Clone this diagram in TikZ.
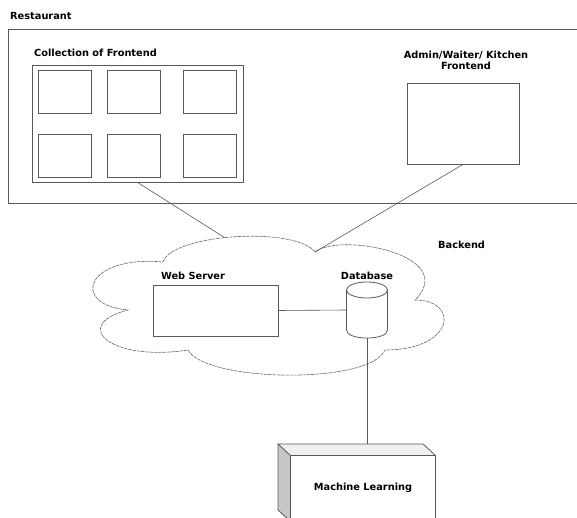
\documentclass[tikz,border=0pt]{standalone}
\usepackage{fontspec}
\setmainfont{DejaVu Sans}

\tikzset{
	lbl/.style={font=\bfseries\fontsize{9.8}{11}\selectfont, inner sep=0pt},
	box/.style={draw=black!65, line width=0.8pt, inner sep=0pt},
	wire/.style={draw=black!65, line width=0.6pt},
	cloudline/.style={draw=black!60, line width=0.6pt, dash pattern=on 3.5pt off 0.8pt},
}

\begin{document}
\begin{tikzpicture}[x=1pt,y=-1pt]
	\useasboundingbox (0,0) rectangle (577,518);
	\clip (0,0) rectangle (577,518);
	% restaurant frame
	\node[lbl,anchor=west] (rest) at (10,16) {Restaurant};
	\draw[box] (578,29) -| (8,203) -- (578,203);
	% guest frontends
	\node[lbl,anchor=west] (collt) at (34,53) {Collection of Frontend};
	\node[box,minimum width=211,minimum height=117] (front) at (137.5,123.5) {};
	\foreach \c/\x in {1/64.5,2/134,3/209.5}
		\foreach \r/\y in {1/91.5,2/155.5}
			\node[box,minimum width=53,minimum height=43] (fe\r\c) at (\x,\y) {};
	% staff frontend
	\node[lbl,align=center] (admint) at (466,60) {Admin/Waiter/ Kitchen\\Frontend};
	\node[box,minimum width=112,minimum height=81] (admin) at (463,123.5) {};
	% backend cloud
	\draw[cloudline] (163,262)
		.. controls (172,234) and (295,226) .. coordinate[pos=0.45] (cltop) (315,252) coordinate (clnotch)
		.. controls (340,232) and (460,255) .. (415,300)
		.. controls (460,300) and (455,350) .. (385,350)
		.. controls (370,385) and (205,382) .. (188,350)
		.. controls (110,362) and (70,325) .. (128,310)
		.. controls (70,305) and (85,255) .. cycle;
	\node[lbl,anchor=west] (backt) at (438,245) {Backend};
	\node[lbl] (webt) at (193,276) {Web Server};
	\node[box,minimum width=125,minimum height=51] (web) at (215.5,310.5) {};
	\node[lbl] (dbt) at (367,276) {Database};
	\node[minimum width=41,minimum height=56,inner sep=0pt] (db) at (367,310) {};
	\draw[box] (367,290) ellipse [x radius=20.5pt, y radius=8pt];
	\draw[box] (346.5,290) -- (346.5,330) .. controls (346.5,340.7) and (387.5,340.7) .. (387.5,330) -- (387.5,290);
	% machine learning block
	\coordinate (mlback) at (278,444);
	\fill[black!6] (278,444) -- (423,444) -- (435,455) -- (290,455) -- cycle;
	\fill[black!22] (278,444) -- (290,455) -- (290,521) -- (278,510) -- cycle;
	\draw[box] (290,455) -- (278,444) -- (423,444) -- (435,455);
	\draw[box] (278,444) -- (278,510) -- (290,521);
	\node[box,minimum width=145,minimum height=66] (ml) at (362.5,488) {};
	\node[lbl] (mlt) at (363,488) {Machine Learning};
	% connectors
	\draw[wire] (front.south) -- (cltop);
	\draw[wire] (admin.south) -- (clnotch);
	\draw[wire] (web.east) -- (db.west);
	\draw[wire] (db.south) -- (db.south |- mlback);
\end{tikzpicture}
\end{document}
